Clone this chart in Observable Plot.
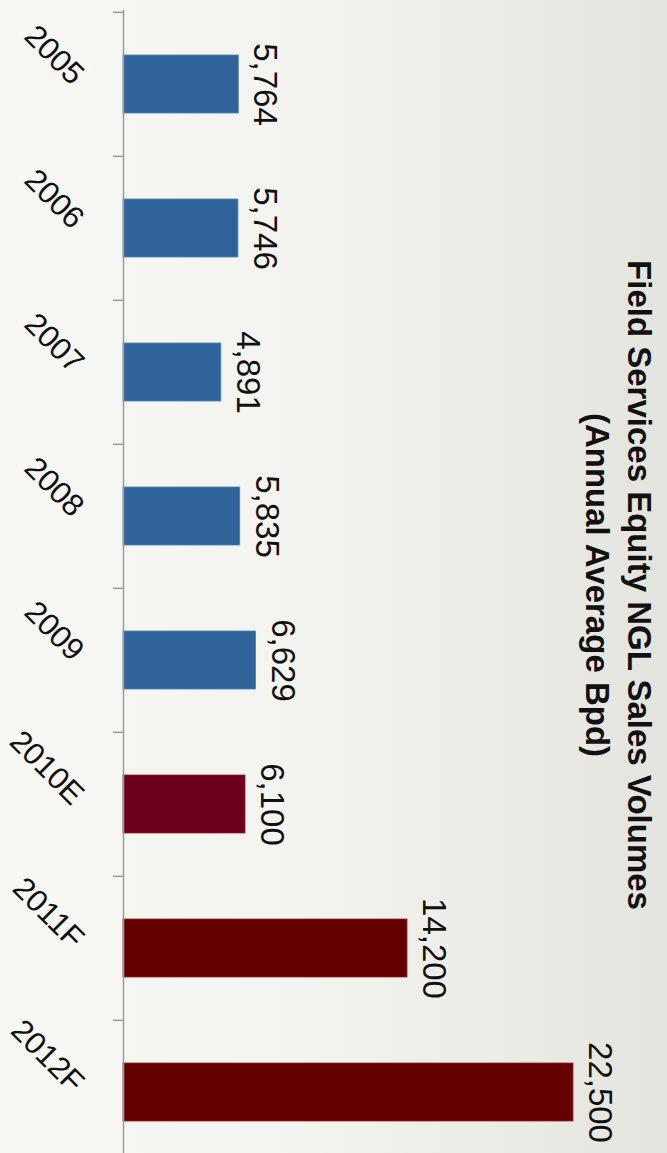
<!DOCTYPE html>
<html><head><meta charset="utf-8">
<script src="https://cdn.jsdelivr.net/npm/d3@7"></script>
<script src="https://cdn.jsdelivr.net/npm/@observablehq/plot@0.6"></script>
<style>
html,body{margin:0;padding:0;width:667px;height:1153px;overflow:hidden;
background:linear-gradient(90deg,#f7f7f3 0%,#f3f3ef 45%,#ebebe6 80%,#e4e4df 100%);}
#chart svg{display:block;background:transparent;}
</style></head>
<body><div id="chart"></div>
<script>
const years = ["2005","2006","2007","2008","2009","2010E","2011F","2012F"];
const volumes = [5764, 5746, 4891, 5835, 6629, 6100, 14200, 22500];
const kinds = ["actual","actual","actual","actual","actual","estimate","forecast","forecast"];
const kindColors = {actual: "#2f6399", estimate: "#6c001c", forecast: "#640000"};
const titleLines = ["Field Services Equity NGL Sales Volumes", "(Annual Average Bpd)"];

const data = years.map((y, i) => ({year: y, value: volumes[i], kind: kinds[i]}));

const W = 667, H = 1153;
const yRange = [10, 1165];
const bw = (yRange[1] - yRange[0]) / years.length;
const font = "'Liberation Sans', Arial, sans-serif";

const chart = Plot.plot({
  width: W, height: H,
  marginLeft: 123, marginRight: 0, marginTop: 10, marginBottom: 0,
  style: {fontFamily: font, background: "transparent", color: "#111"},
  x: {domain: [0, 27200], axis: null},
  y: {domain: years, range: yRange, padding: 0, axis: null},
  marks: [
    Plot.barX(data, {x: "value", y: "year", fill: d => kindColors[d.kind],
      stroke: d => d.kind === "actual" ? "#4f7fb0" : "#8a2a2a", strokeWidth: 0.8,
      insetTop: 43, insetBottom: 43}),
    Plot.ruleX([0], {stroke: "#9d9d9d", strokeWidth: 1.5}),
    Plot.ruleY(years, {y: d => d, dy: -bw / 2, x1: -500, x2: 0, stroke: "#9d9d9d", strokeWidth: 1.5}),
    Plot.text(data, {x: 0, y: "year", text: "year", rotate: 45, textAnchor: "end",
      lineAnchor: "middle", dx: -45, dy: -5, fontSize: 31, fill: "#111"}),
    Plot.text(data, {x: "value", y: "year", text: d => d3.format(",")(d.value), rotate: 90,
      textAnchor: "middle", lineAnchor: "middle", dx: 26, fontSize: 33, fill: "#111"}),
    Plot.text([titleLines.join("\n")], {frameAnchor: "right", rotate: 90, dx: -47, dy: 3,
      textAnchor: "middle", lineAnchor: "middle", lineHeight: 1.27, fontSize: 33,
      fontWeight: "bold", fill: "#111"})
  ]
});
document.getElementById("chart").appendChild(chart);
</script>
</body></html>
